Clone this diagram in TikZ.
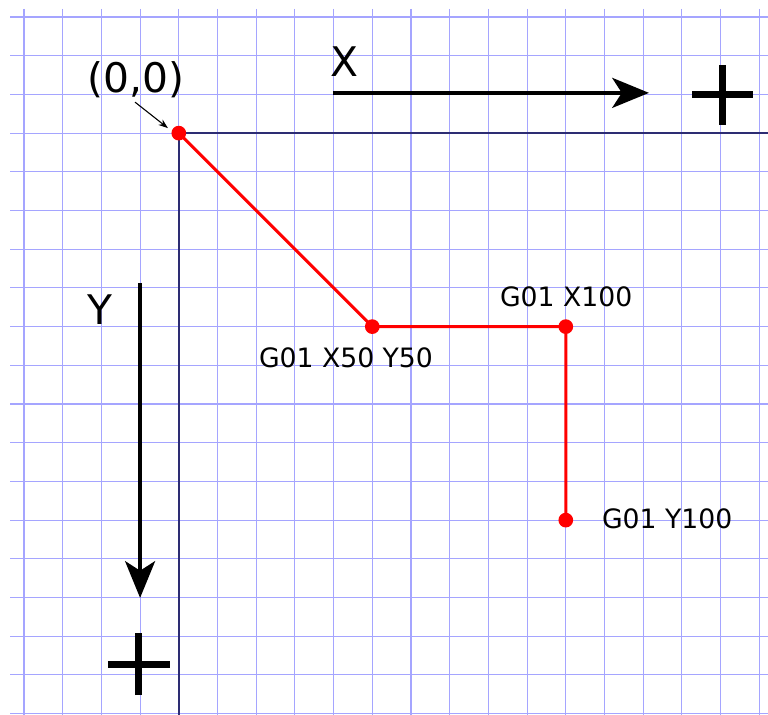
\documentclass[tikz,border=0pt]{standalone}
\usepackage{fontspec}
\setmainfont{DejaVu Sans}
\usetikzlibrary{arrows.meta,calc}
\definecolor{gridblue}{RGB}{165,165,255}
\definecolor{axisnavy}{RGB}{45,45,115}

\begin{document}
\begin{tikzpicture}[every node/.style={inner sep=1.5pt},
    gcode/.style={font=\fontsize{19.6}{23}\selectfont},
    axlbl/.style={font=\fontsize{30}{34}\selectfont},
    dir/.style={line width=2.9pt,-{Stealth[length=27pt,width=22pt,inset=7pt]}},
    plus/.style={line width=5.2pt},
    tool/.style={red,line width=2.2pt},
    pt/.style={red}]
  \useasboundingbox (0,0) rectangle (19.845,-18.475);
  \fill[white] (0,0) rectangle (19.845,-18.475);
  % grid paper
  \foreach \i in {0,...,19}
    \draw[gridblue,line width=0.8pt] (0.62+\i,-0.23) -- (0.62+\i,-18.475);
  \foreach \j in {0,...,18}
    \draw[gridblue,line width=0.8pt] (0.26,-0.44-\j) -- (19.845,-0.44-\j);
  % machine axes
  \coordinate (O) at (4.62,-3.44);
  \coordinate (xEnd) at (19.845,-3.44);
  \coordinate (yEnd) at (4.62,-18.475);
  \draw[axisnavy,line width=1.1pt] (O) -- (xEnd);
  \draw[axisnavy,line width=1.1pt] (O) -- (yEnd);
  % X direction
  \coordinate (xA) at (8.6,-2.40);
  \coordinate (xB) at (16.77,-2.40);
  \draw[dir] (xA) -- (xB);
  \node[axlbl] (xL) at (8.91,-1.60) {X};
  \coordinate (xP) at (18.67,-2.45);
  \draw[plus] ($(xP)+(-0.78,0)$) -- ($(xP)+(0.78,0)$);
  \draw[plus] ($(xP)+(0,-0.78)$) -- ($(xP)+(0,0.78)$);
  % Y direction
  \coordinate (yA) at (3.62,-7.31);
  \coordinate (yB) at (3.62,-15.45);
  \draw[dir] (yA) -- (yB);
  \node[axlbl] (yL) at (2.58,-8.01) {Y};
  \coordinate (yP) at (3.59,-17.16);
  \draw[plus] ($(yP)+(-0.8,0)$) -- ($(yP)+(0.8,0)$);
  \draw[plus] ($(yP)+(0,-0.8)$) -- ($(yP)+(0,0.8)$);
  % tool path
  \coordinate (p1) at (9.62,-8.44);
  \coordinate (p2) at (14.62,-8.44);
  \coordinate (p3) at (14.62,-13.44);
  \draw[tool] (O) -- (p1) -- (p2) -- (p3);
  \fill[pt] (O) circle (0.19);
  \fill[pt] (p1) circle (0.19);
  \fill[pt] (p2) circle (0.19);
  \fill[pt] (p3) circle (0.19);
  % labels
  \node[font=\fontsize{30}{34}\selectfont] (oL) at (3.51,-2.07) {(0,0)};
  \coordinate (oTip) at (4.34,-3.31);
  \draw[line width=0.8pt,-{Stealth[length=7pt,width=5pt]}] (3.49,-2.64) -- (oTip);
  \node[gcode] (l1) at (8.94,-9.25) {G01 X50 Y50};
  \node[gcode] (l2) at (14.63,-7.67) {G01 X100};
  \node[gcode] (l3) at (17.24,-13.41) {G01 Y100};
\end{tikzpicture}
\end{document}
